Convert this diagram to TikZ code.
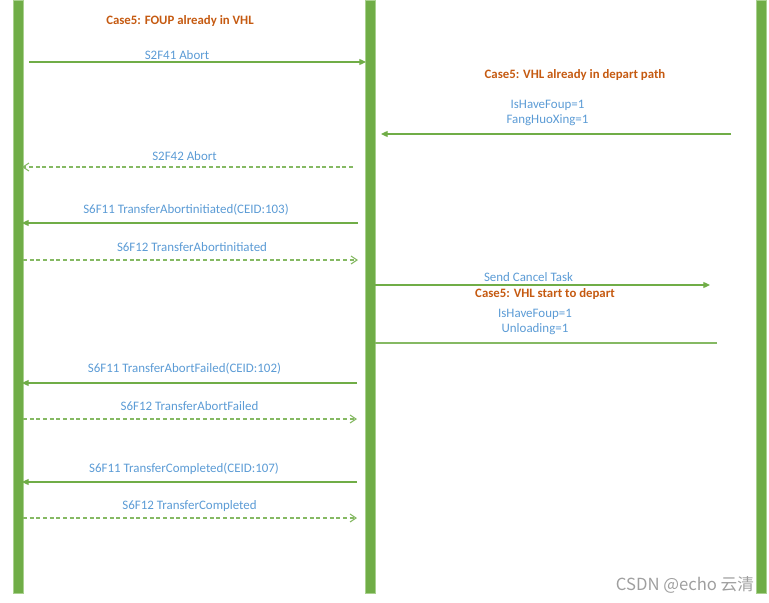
\documentclass[tikz,border=0pt]{standalone}
\usepackage{fontspec}
\setmainfont{Carlito}
\newfontfamily\cjkfont{Noto Sans CJK SC}
\usetikzlibrary{arrows.meta}
\definecolor{barGreen}{HTML}{70AD47}
\definecolor{lightGreen}{HTML}{A9D18E}
\definecolor{msgBlue}{HTML}{5B9BD5}
\definecolor{caseOrange}{HTML}{C55A11}

\begin{document}
\begin{tikzpicture}[x=0.75pt, y=-0.75pt,
   lifeline/.style={fill=barGreen, draw=lightGreen, line width=0.4pt, anchor=north west,
                    minimum width=7.5pt, minimum height=444.75pt, inner sep=0pt},
   msg/.style={draw=barGreen, line width=0.9pt, -{Triangle[length=5pt, width=4.5pt]}},
   reply/.style={draw=barGreen!85, line width=0.8pt, dash pattern=on 3pt off 2pt,
                 -{Straight Barb[length=4.5pt, width=6pt]}},
   plain/.style={draw=barGreen!85, line width=0.9pt},
   lbl/.style={text=msgBlue, inner sep=0pt, align=center, font=\fontsize{9.7}{11.6}\selectfont},
   case/.style={text=caseOrange, inner sep=0pt, font=\fontsize{9.6}{11}\selectfont\bfseries}] 
   \useasboundingbox (0,0) rectangle (769,603);

   % lifelines
   \node[lifeline] (host) at (13,0) {};
   \node[lifeline] (mcs)  at (365,0) {};
   \node[lifeline] (vhl)  at (756,0) {};

   % case headings
   \node[case] (case1) at (180,21)  {Case5: FOUP already in VHL};
   \node[case] (case2) at (575,75)  {Case5: VHL already in depart path};
   \node[case] (case3) at (545,294) {Case5: VHL start to depart};

   % message end points
   \coordinate (m1a) at (29,62);   \coordinate (m1b) at (366,62);
   \coordinate (m2a) at (731,134); \coordinate (m2b) at (381,134);
   \coordinate (m3a) at (353,167); \coordinate (m3b) at (22,167);
   \coordinate (m4a) at (358,223); \coordinate (m4b) at (22,223);
   \coordinate (m5a) at (23,260);  \coordinate (m5b) at (358,260);
   \coordinate (m6a) at (375,285); \coordinate (m6b) at (710,285);
   \coordinate (m7a) at (717,343); \coordinate (m7b) at (375,343);
   \coordinate (m8a) at (357,383); \coordinate (m8b) at (22,383);
   \coordinate (m9a) at (23,419);  \coordinate (m9b) at (357,419);
   \coordinate (m10a) at (357,482); \coordinate (m10b) at (22,482);
   \coordinate (m11a) at (23,518);  \coordinate (m11b) at (357,518);

   \path
    (m1a) edge[msg] (m1b)
    (m2a) edge[msg] (m2b)
    (m3a) edge[reply] (m3b)
    (m4a) edge[msg] (m4b)
    (m5a) edge[reply] (m5b)
    (m6a) edge[msg] (m6b)
    (m7a) edge[plain] (m7b)
    (m8a) edge[msg] (m8b)
    (m9a) edge[reply] (m9b)
    (m10a) edge[msg] (m10b)
    (m11a) edge[reply] (m11b);

   % message labels
   \node[lbl] (l1) at (177,55)    {S2F41 Abort};
   \node[lbl] (l2) at (547.5,113) {IsHaveFoup=1\\FangHuoXing=1};
   \node[lbl] (l3) at (184.5,156) {S2F42 Abort};
   \node[lbl] (l4) at (186,210)   {S6F11 TransferAbortinitiated(CEID:103)};
   \node[lbl] (l5) at (192,247)   {S6F12 TransferAbortinitiated};
   \node[lbl] (l6) at (528.5,277) {Send Cancel Task};
   \node[lbl] (l7) at (535,322) {IsHaveFoup=1\\Unloading=1};
   \node[lbl] (l8) at (184.5,369) {S6F11 TransferAbortFailed(CEID:102)};
   \node[lbl] (l9) at (189.5,406) {S6F12 TransferAbortFailed};
   \node[lbl] (l10) at (184,469)  {S6F11 TransferCompleted(CEID:107)};
   \node[lbl] (l11) at (189.5,506) {S6F12 TransferCompleted};

   \node[text=gray!75, inner sep=0pt, font=\cjkfont\fontsize{12.5}{13}\selectfont] (mark) at (685,585) {CSDN @echo 云清};
\end{tikzpicture}
\end{document}
